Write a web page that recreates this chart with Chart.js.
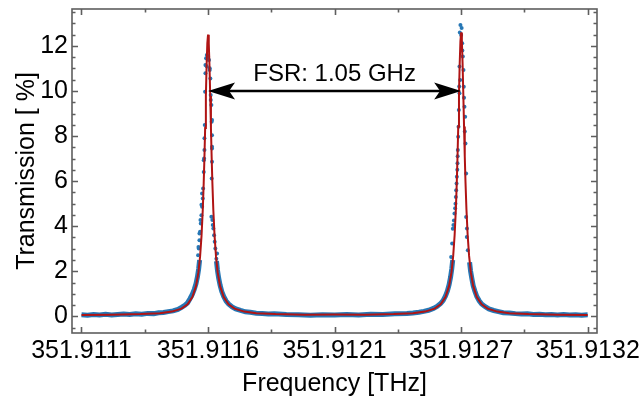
<!DOCTYPE html>
<html>
<head>
<meta charset="utf-8">
<script src="https://cdn.jsdelivr.net/npm/chart.js@4.4.1/dist/chart.umd.min.js"></script>
<style>
  html, body { margin: 0; padding: 0; background: #fff; }
  #wrap { width: 642px; height: 402px; }
</style>
</head>
<body>
<div id="wrap"><canvas id="fsrChart"></canvas></div>
<script>
// x values are GHz measured from the first labelled tick (351.9111 THz)
const xTicks = [0, 0.525, 1.05, 1.575, 2.1];
const xTickLabels = ['351.9111', '351.9116', '351.9121', '351.9127', '351.9132'];
const xMinorTicks = [0.2625, 0.7875, 1.3125, 1.8375];
const yTicks = [0, 2, 4, 6, 8, 10, 12];
const yMinorTicks = [-0.5, 0.5, 1, 1.5, 2.5, 3, 3.5, 4.5, 5, 5.5, 6.5, 7, 7.5, 8.5, 9, 9.5, 10.5, 11, 11.5, 12.5, 13, 13.5];

// Lorentzian fit (red)
const fitX = [0, 0.125, 0.245, 0.325, 0.375, 0.415, 0.44, 0.46, 0.475, 0.485,
  0.492, 0.498, 0.503, 0.507, 0.51, 0.513, 0.516, 0.519, 0.522, 0.525,
  0.528, 0.531, 0.534, 0.537, 0.54, 0.543, 0.547, 0.552, 0.558, 0.565,
  0.575, 0.59, 0.61, 0.635, 0.675, 0.725, 0.805, 0.925, 1.05, 1.175,
  1.295, 1.375, 1.425, 1.465, 1.49, 1.51, 1.525, 1.535, 1.542, 1.548,
  1.553, 1.557, 1.56, 1.563, 1.566, 1.569, 1.572, 1.575, 1.578, 1.581,
  1.584, 1.587, 1.59, 1.593, 1.597, 1.602, 1.608, 1.615, 1.625, 1.64,
  1.66, 1.685, 1.725, 1.775, 1.855, 1.975, 2.1];
const fitY = [0.06, 0.07, 0.10, 0.14, 0.21, 0.34, 0.53, 0.85, 1.34, 1.95,
  2.66, 3.58, 4.70, 5.92, 7.05, 8.36, 9.78, 11.12, 12.12, 12.50,
  12.12, 11.12, 9.78, 8.36, 7.05, 5.92, 4.70, 3.58, 2.66, 1.95,
  1.34, 0.85, 0.53, 0.34, 0.21, 0.14, 0.10, 0.07, 0.08, 0.07,
  0.10, 0.14, 0.21, 0.34, 0.53, 0.85, 1.35, 1.96, 2.68, 3.61,
  4.74, 5.97, 7.11, 8.43, 9.86, 11.21, 12.21, 12.60, 12.21, 11.21,
  9.86, 8.43, 7.11, 5.97, 4.74, 3.61, 2.68, 1.96, 1.35, 0.85,
  0.53, 0.34, 0.21, 0.14, 0.10, 0.07, 0.06];

// measured data, dense parts (blue band)
const leftX = [0, 0.025, 0.05, 0.075, 0.10, 0.125, 0.15, 0.175, 0.20, 0.225, 0.25, 0.275, 0.30, 0.32,
  0.34, 0.36, 0.38, 0.40, 0.415, 0.43, 0.44, 0.45, 0.46, 0.468, 0.475, 0.481, 0.486, 0.49];
const leftY = [0.07, 0.05, 0.08, 0.06, 0.09, 0.06, 0.08, 0.10, 0.08, 0.11, 0.09, 0.13, 0.12, 0.16,
  0.17, 0.21, 0.24, 0.31, 0.40, 0.50, 0.60, 0.78, 0.98, 1.20, 1.45, 1.75, 2.10, 2.50];
const midX = [0.56, 0.564, 0.569, 0.575, 0.582, 0.59, 0.60, 0.61, 0.625, 0.64,
  0.66, 0.68, 0.70, 0.725, 0.75, 0.775, 0.80, 0.85, 0.90, 0.95,
  1.00, 1.05, 1.10, 1.15, 1.20, 1.25, 1.30, 1.35, 1.375, 1.40,
  1.42, 1.44, 1.46, 1.475, 1.49, 1.50, 1.51, 1.518, 1.525, 1.531, 1.536, 1.54];
const midY = [2.45, 2.05, 1.70, 1.38, 1.10, 0.88, 0.68, 0.55, 0.42, 0.33,
  0.26, 0.20, 0.18, 0.14, 0.13, 0.10, 0.11, 0.08, 0.07, 0.05,
  0.07, 0.06, 0.08, 0.06, 0.09, 0.08, 0.11, 0.13, 0.15, 0.18,
  0.22, 0.27, 0.35, 0.44, 0.57, 0.70, 0.90, 1.13, 1.40, 1.73, 2.10, 2.50];
const rightX = [1.61, 1.614, 1.619, 1.625, 1.632, 1.64, 1.65, 1.66, 1.675, 1.69, 1.71, 1.73, 1.75, 1.775,
  1.80, 1.825, 1.85, 1.875, 1.90, 1.925, 1.95, 1.975, 2.00, 2.025, 2.05, 2.075, 2.10];
const rightY = [2.40, 2.02, 1.70, 1.36, 1.12, 0.88, 0.69, 0.55, 0.43, 0.33, 0.26, 0.21, 0.16, 0.15,
  0.12, 0.10, 0.11, 0.08, 0.09, 0.07, 0.08, 0.06, 0.08, 0.06, 0.07, 0.05, 0.07];

// measured data on the resonances (single dots)
const peakX = [0.5168, 0.5141, 0.5141, 0.5127, 0.5113, 0.5100, 0.5086, 0.5072, 0.5044, 0.5030,
  0.5003, 0.4975, 0.4948, 0.4920, 0.4892, 0.4865, 0.4837, 0.5100, 0.5072, 0.5001,
  0.4976, 0.4935, 0.4893, 0.4852, 0.5200, 0.5230, 0.5190, 0.5250, 0.5291, 0.5319,
  0.5346, 0.5360, 0.5388, 0.5401, 0.5415, 0.5415, 0.5415, 0.5401, 0.5388, 0.5430,
  0.5470, 0.5500, 0.5526, 0.5553, 0.5595, 0.5320, 0.5362, 0.5416, 0.5416, 0.5445,
  0.5623,
  1.5721, 1.5750, 1.5793, 1.5820, 1.5681, 1.5847, 1.5709, 1.5860, 1.5681, 1.5888,
  1.5653, 1.5916, 1.5640, 1.5929, 1.5626, 1.5612, 1.5598, 1.5571, 1.5957, 1.5543,
  1.5515, 1.5473, 1.5404, 1.5957, 1.5985, 1.6027, 1.5377, 1.5335, 1.5695, 1.5770,
  1.5800, 1.5670, 1.5870, 1.5900, 1.5605, 1.5590, 1.5560, 1.5530, 1.5500, 1.5450,
  1.5430, 1.5990];
const peakY = [11.45, 11.16, 10.79, 9.97, 8.49, 7.90, 7.01, 6.41, 5.67, 5.23,
  4.86, 4.49, 4.12, 3.75, 3.38, 3.01, 2.71, 7.38, 6.93, 5.45,
  4.95, 4.27, 3.68, 3.08, 11.60, 11.40, 11.10, 11.53, 11.38, 11.01,
  10.56, 9.82, 9.38, 8.64, 8.04, 7.45, 6.86, 6.12, 4.42, 4.27,
  3.90, 3.60, 3.31, 3.01, 2.56, 10.93, 9.60, 8.71, 7.53, 4.05,
  2.79,
  12.93, 12.49, 12.12, 11.53, 11.09, 10.93, 10.49, 10.19, 9.90, 9.30,
  9.16, 8.86, 8.41, 7.67, 7.97, 7.38, 6.79, 6.19, 6.34, 5.60,
  5.00, 4.56, 3.89, 4.41, 3.52, 2.93, 3.23, 2.63, 12.60, 12.80,
  11.80, 10.20, 9.70, 8.20, 7.10, 6.50, 5.90, 5.30, 4.80, 4.25,
  4.05, 3.90];

const fsrFrom = 0.525, fsrTo = 1.575, fsrLevel = 10, fsrTextLevel = 10.72;
const fsrLabel = 'FSR: 1.05 GHz';

const FONT = '"Liberation Sans", Arial, sans-serif';
const BLUE = '#2677b5';
const RED = '#b01414';
const pts = (xs, ys) => xs.map((v, i) => ({ x: v, y: ys[i] }));

// Mathematica style frame with inward ticks on all four sides
const framePlugin = {
  id: 'frame',
  afterDatasetsDraw(chart) {
    const { ctx, chartArea: a, scales: { x, y } } = chart;
    ctx.save();
    ctx.strokeStyle = '#5e5e5e';
    ctx.lineWidth = 1.6;
    ctx.strokeRect(a.left, a.top, a.right - a.left, a.bottom - a.top);
    ctx.beginPath();
    const xMark = (v, len) => {
      const px = Math.round(x.getPixelForValue(v)) + 0.5;
      ctx.moveTo(px, a.bottom); ctx.lineTo(px, a.bottom - len);
      ctx.moveTo(px, a.top); ctx.lineTo(px, a.top + len);
    };
    const yMark = (v, len) => {
      const py = Math.round(y.getPixelForValue(v)) + 0.5;
      ctx.moveTo(a.left, py); ctx.lineTo(a.left + len, py);
      ctx.moveTo(a.right, py); ctx.lineTo(a.right - len, py);
    };
    xTicks.forEach(v => xMark(v, 6));
    xMinorTicks.forEach(v => xMark(v, 3.5));
    yTicks.forEach(v => yMark(v, 6));
    yMinorTicks.forEach(v => yMark(v, 3.5));
    ctx.stroke();
    ctx.restore();
  }
};

// double arrow with the FSR label
const fsrPlugin = {
  id: 'fsr',
  afterDraw(chart) {
    const { ctx, scales: { x, y } } = chart;
    const x1 = x.getPixelForValue(fsrFrom);
    const x2 = x.getPixelForValue(fsrTo);
    const yy = y.getPixelForValue(fsrLevel);
    const L = 27, H = 8.5;
    ctx.save();
    ctx.strokeStyle = '#000';
    ctx.fillStyle = '#000';
    ctx.lineWidth = 2.4;
    ctx.beginPath();
    ctx.moveTo(x1 + L * 0.7, yy);
    ctx.lineTo(x2 - L * 0.7, yy);
    ctx.stroke();
    const head = (tip, dir) => {
      ctx.beginPath();
      ctx.moveTo(tip, yy);
      ctx.lineTo(tip + dir * L, yy - H);
      ctx.lineTo(tip + dir * L * 0.78, yy);
      ctx.lineTo(tip + dir * L, yy + H);
      ctx.closePath();
      ctx.fill();
    };
    head(x1, 1);
    head(x2, -1);
    ctx.font = '24px ' + FONT;
    ctx.textAlign = 'center';
    ctx.textBaseline = 'middle';
    ctx.fillText(fsrLabel, (x1 + x2) / 2, y.getPixelForValue(fsrTextLevel));
    ctx.restore();
  }
};

new Chart(document.getElementById('fsrChart'), {
  type: 'scatter',
  data: {
    datasets: [
      { label: 'fit', data: pts(fitX, fitY), showLine: true, borderColor: RED, borderWidth: 2,
        pointRadius: 0, order: 0 },
      { label: 'peaks', data: pts(peakX, peakY), backgroundColor: BLUE, borderWidth: 0,
        pointRadius: 2, order: 1 },
      { label: 'left', data: pts(leftX, leftY), showLine: true, borderColor: BLUE, borderWidth: 5,
        pointRadius: 0, order: 2 },
      { label: 'mid', data: pts(midX, midY), showLine: true, borderColor: BLUE, borderWidth: 5,
        pointRadius: 0, order: 2 },
      { label: 'right', data: pts(rightX, rightY), showLine: true, borderColor: BLUE, borderWidth: 5,
        pointRadius: 0, order: 2 }
    ]
  },
  options: {
    responsive: true,
    maintainAspectRatio: false,
    animation: false,
    layout: { padding: { top: 9, right: 45, left: 0, bottom: 0 } },
    plugins: { legend: { display: false }, tooltip: { enabled: false } },
    scales: {
      x: {
        type: 'linear', min: -0.0394, max: 2.1386,
        afterBuildTicks: s => { s.ticks = xTicks.map(v => ({ value: v })); },
        afterFit: s => { s.height = 69; s.paddingLeft = 0; s.paddingRight = 0; },
        grid: { display: false, drawTicks: false }, border: { display: false },
        ticks: { autoSkip: false, maxRotation: 0, padding: 3, color: '#000',
          font: { family: FONT, size: 25 }, callback: (v, i) => xTickLabels[i] },
        title: { display: true, text: 'Frequency [THz]', color: '#000',
          font: { family: FONT, size: 25 }, padding: { top: 0, bottom: 3 } }
      },
      y: {
        type: 'linear', min: -0.74, max: 13.64,
        afterBuildTicks: s => { s.ticks = yTicks.map(v => ({ value: v })); },
        afterFit: s => { s.width = 72; s.paddingTop = 0; s.paddingBottom = 0; },
        grid: { display: false, drawTicks: false }, border: { display: false },
        ticks: { padding: 4, color: '#000', font: { family: FONT, size: 25 } },
        title: { display: true, text: 'Transmission [ %]', color: '#000',
          font: { family: FONT, size: 25 }, padding: { top: 12, bottom: 0 } }
      }
    }
  },
  plugins: [framePlugin, fsrPlugin]
});
</script>
</body>
</html>
